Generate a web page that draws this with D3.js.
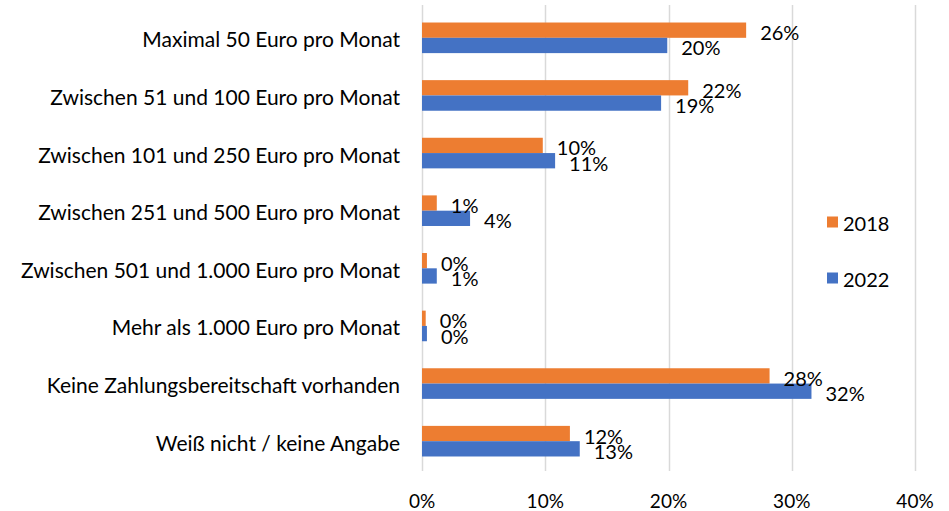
<!DOCTYPE html>
<html>
<head>
<meta charset="utf-8">
<script src="https://cdn.jsdelivr.net/npm/d3@7"></script>
<style>
  body { margin: 0; background: #fff; }
  svg { font-family: Lato, "Open Sans", sans-serif; }
</style>
</head>
<body>
<div id="chart"></div>
<script>
const categories = [
    "Maximal 50 Euro pro Monat",
    "Zwischen 51 und 100 Euro pro Monat",
    "Zwischen 101 und 250 Euro pro Monat",
    "Zwischen 251 und 500 Euro pro Monat",
    "Zwischen 501 und 1.000 Euro pro Monat",
    "Mehr als 1.000 Euro pro Monat",
    "Keine Zahlungsbereitschaft vorhanden",
    "Weiß nicht / keine Angabe"
];
const seriesNames = ["2018", "2022"];
const values2018 = [26.3, 21.6, 9.8, 1.2, 0.4, 0.3, 28.2, 12.0];
const values2022 = [19.9, 19.4, 10.8, 3.9, 1.2, 0.4, 31.6, 12.8];
const xTicks = [0, 10, 20, 30, 40];

const width = 949, height = 511;
const margin = { top: 9, right: 35, bottom: 41, left: 422 };

// Colors like the office palette
const colors = { "2018": "#ED7D31", "2022": "#4472C4" };

const svg = d3.select("#chart").append("svg")
    .attr("width", width)
    .attr("height", height);

const x = d3.scaleLinear()
    .domain([0, 40])
    .range([margin.left, margin.left + 493]);

const y = d3.scaleBand()
    .domain(categories)
    .range([margin.top, height - margin.bottom]);

const inner = d3.scaleBand()
    .domain(seriesNames)
    .range([y.bandwidth() / 2 - 15.3, y.bandwidth() / 2 + 15.3]);

// vertical gridlines
svg.append("g")
    .selectAll("line")
    .data(xTicks)
    .enter()
    .append("line")
    .attr("x1", d => Math.round(x(d)) + 0.5)
    .attr("x2", d => Math.round(x(d)) + 0.5)
    .attr("y1", 5)
    .attr("y2", height - margin.bottom + 1)
    .attr("stroke", "#d9d9d9")
    .attr("stroke-width", 1.5);

// x tick labels
svg.append("g")
    .selectAll("text")
    .data(xTicks)
    .enter()
    .append("text")
    .attr("x", d => x(d))
    .attr("y", 500)
    .attr("text-anchor", "middle")
    .attr("dominant-baseline", "central")
    .attr("font-size", "19px")
    .attr("fill", "#000")
    .text(d => d + "%");

// category labels
svg.append("g")
    .selectAll("text")
    .data(categories)
    .enter()
    .append("text")
    .attr("x", 400)
    .attr("y", d => y(d) + y.bandwidth() / 2 + 1)
    .attr("text-anchor", "end")
    .attr("dominant-baseline", "central")
    .attr("font-size", "21px")
    .attr("fill", "#000")
    .text(d => d);

const rows = categories.map((c, i) => ({
    category: c,
    values: [
        { series: "2018", value: values2018[i] },
        { series: "2022", value: values2022[i] }
    ]
}));

const groups = svg.append("g")
    .selectAll("g")
    .data(rows)
    .enter()
    .append("g")
    .attr("transform", d => `translate(0,${y(d.category)})`);

groups.selectAll("rect")
    .data(d => d.values)
    .enter()
    .append("rect")
    .attr("x", x(0))
    .attr("y", d => inner(d.series))
    .attr("width", d => x(d.value) - x(0))
    .attr("height", inner.bandwidth())
    .attr("fill", d => colors[d.series]);

const fmt = d3.format(".0%");

groups.selectAll("text")
    .data(d => d.values)
    .enter()
    .append("text")
    .attr("x", d => x(d.value) + 14)
    .attr("y", d => inner(d.series) + inner.bandwidth() / 2 + 2)
    .attr("dominant-baseline", "central")
    .attr("font-size", "20px")
    .attr("fill", "#000")
    .text(d => fmt(d.value / 100));

// legend
const legend = svg.append("g")
    .selectAll("g")
    .data(seriesNames)
    .enter()
    .append("g")
    .attr("transform", (d, i) => `translate(827,${222 + i * 56})`);

legend.append("rect")
    .attr("x", 0)
    .attr("y", -5.5)
    .attr("width", 11)
    .attr("height", 11)
    .attr("fill", d => colors[d]);

legend.append("text")
    .attr("x", 16)
    .attr("y", 1)
    .attr("dominant-baseline", "central")
    .attr("font-size", "20px")
    .attr("fill", "#000")
    .text(d => d);
</script>
</body>
</html>
